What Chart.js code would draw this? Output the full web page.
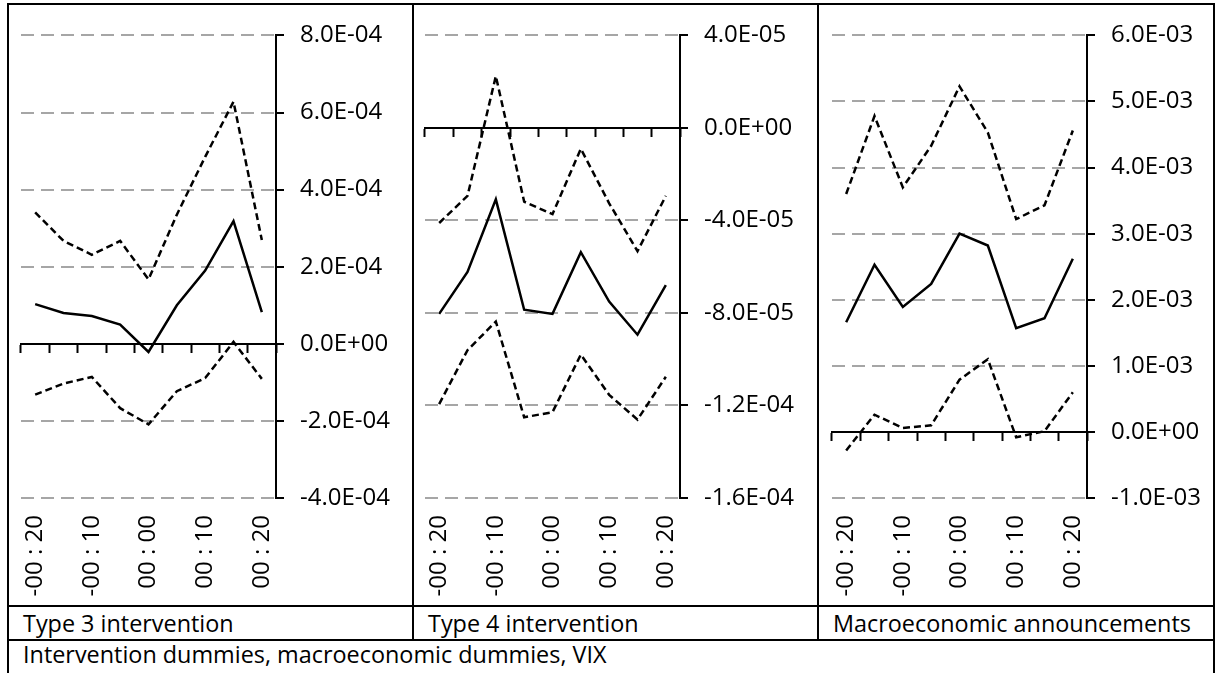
<!DOCTYPE html>
<html>
<head>
<meta charset="utf-8">
<script src="https://cdn.jsdelivr.net/npm/chart.js@4/dist/chart.umd.min.js"></script>
<style>
  body { margin: 0; background: #fff; font-family: 'Open Sans', sans-serif; }
  #page { position: relative; width: 1215px; height: 673px; overflow: hidden; }
  .line { position: absolute; background: #000; }
  .box { position: absolute; }
  .cap { position: absolute; font-size: 23.4px; line-height: 32px; color: #000; white-space: nowrap; }
</style>
</head>
<body>
<div id="page">
  <div class="box" style="left:9px;top:5px;width:402px;height:600px"><canvas id="chart1"></canvas></div>
  <div class="box" style="left:414px;top:5px;width:402px;height:600px"><canvas id="chart2"></canvas></div>
  <div class="box" style="left:819px;top:5px;width:393px;height:600px"><canvas id="chart3"></canvas></div>

  <!-- table frame -->
  <div class="line" style="left:7px;top:3px;width:1208px;height:2px"></div>
  <div class="line" style="left:7px;top:3px;width:2px;height:670px"></div>
  <div class="line" style="left:1213px;top:3px;width:2px;height:670px"></div>
  <div class="line" style="left:412px;top:3px;width:2px;height:638px"></div>
  <div class="line" style="left:817px;top:3px;width:2px;height:638px"></div>
  <div class="line" style="left:7px;top:605px;width:1208px;height:2px"></div>
  <div class="line" style="left:7px;top:639px;width:1208px;height:2px"></div>

  <div class="cap" style="left:23px;top:607px">Type 3 intervention</div>
  <div class="cap" style="left:428px;top:607px">Type 4 intervention</div>
  <div class="cap" style="left:833px;top:607px">Macroeconomic announcements</div>
  <div class="cap" style="left:23px;top:638px">Intervention dummies, macroeconomic dummies, VIX</div>
</div>

<script>
// time offsets around the event
const timeLabels = ['-00 : 20', '-00 : 15', '-00 : 10', '-00 : 05', '00 : 00', '00 : 05', '00 : 10', '00 : 15', '00 : 20'];

// Type 3 intervention
const type3Estimate = [1.03e-4, 0.80e-4, 0.72e-4, 0.50e-4, -0.21e-4, 1.00e-4, 1.90e-4, 3.18e-4, 0.82e-4];
const type3Upper = [3.41e-4, 2.67e-4, 2.31e-4, 2.67e-4, 1.67e-4, 3.35e-4, 4.85e-4, 6.28e-4, 2.69e-4];
const type3Lower = [-1.32e-4, -1.03e-4, -0.86e-4, -1.67e-4, -2.09e-4, -1.23e-4, -0.89e-4, 0.05e-4, -0.91e-4];

// Type 4 intervention
const type4Estimate = [-80.4e-6, -62.3e-6, -30.9e-6, -78.6e-6, -80.4e-6, -53.7e-6, -75.1e-6, -89.4e-6, -68.0e-6];
const type4Upper = [-41.1e-6, -29.4e-6, 22.4e-6, -31.9e-6, -37.3e-6, -9.0e-6, -32.6e-6, -53.3e-6, -29.4e-6];
const type4Lower = [-119.4e-6, -96.1e-6, -83.7e-6, -125.1e-6, -122.9e-6, -98.0e-6, -115.4e-6, -126.1e-6, -107.6e-6];

// Macroeconomic announcements
const macroEstimate = [1.66e-3, 2.53e-3, 1.89e-3, 2.24e-3, 3.00e-3, 2.82e-3, 1.57e-3, 1.72e-3, 2.62e-3];
const macroUpper = [3.60e-3, 4.78e-3, 3.70e-3, 4.33e-3, 5.23e-3, 4.53e-3, 3.22e-3, 3.43e-3, 4.56e-3];
const macroLower = [-0.28e-3, 0.26e-3, 0.06e-3, 0.10e-3, 0.79e-3, 1.10e-3, -0.08e-3, 0.01e-3, 0.60e-3];

// y-axis ranges [min, max, step]
const type3Range = [-4e-4, 8e-4, 2e-4];
const type4Range = [-1.6e-4, 4e-5, 4e-5];
const macroRange = [-1e-3, 6e-3, 1e-3];

const tickFont = { family: 'Open Sans', size: 24 };

// format like Excel: 8.0E-04
function sci(v) {
  if (Math.abs(v) < 1e-15) v = 0;
  const parts = v.toExponential(1).split('e');
  const n = parseInt(parts[1], 10);
  return parts[0] + 'E' + (n < 0 ? '-' : '+') + String(Math.abs(n)).padStart(2, '0');
}

function makeChart(id, estimate, upper, lower, range, padLeft, axisWidth) {
  return new Chart(document.getElementById(id), {
    type: 'line',
    data: {
      labels: timeLabels,
      datasets: [{
        data: upper,
        borderColor: '#000',
        borderWidth: 2.5,
        borderDash: [7, 4],
        pointRadius: 0,
        tension: 0,
        xAxisID: 'x',
        yAxisID: 'y'
      }, {
        data: estimate,
        borderColor: '#000',
        borderWidth: 2.5,
        pointRadius: 0,
        tension: 0,
        xAxisID: 'x',
        yAxisID: 'y'
      }, {
        data: lower,
        borderColor: '#000',
        borderWidth: 2.5,
        borderDash: [7, 4],
        pointRadius: 0,
        tension: 0,
        xAxisID: 'x',
        yAxisID: 'y'
      }]
    },
    options: {
      responsive: true,
      maintainAspectRatio: false,
      animation: false,
      layout: { padding: { left: padLeft, top: 25, right: 0, bottom: 0 } },
      plugins: {
        legend: { display: false },
        tooltip: { enabled: false }
      },
      scales: {
        // horizontal axis line crossing at zero
        x: {
          type: 'category',
          axis: 'x',
          position: { y: 0 },
          offset: true,
          grid: {
            offset: true,
            drawOnChartArea: false,
            drawTicks: true,
            tickLength: 8,
            tickWidth: 2,
            tickColor: '#000'
          },
          border: { display: true, color: '#000', width: 2 },
          ticks: { display: false }
        },
        // time labels at the bottom
        xl: {
          type: 'category',
          axis: 'x',
          position: 'bottom',
          offset: true,
          grid: { display: false, drawTicks: false },
          border: { display: false },
          ticks: {
            autoSkip: false,
            minRotation: 90,
            maxRotation: 90,
            padding: 17,
            color: '#000',
            font: tickFont,
            callback: (v, i) => (i % 2 === 0 ? timeLabels[i] : '')
          },
          afterFit: (scale) => { scale.height = 107; }
        },
        y: {
          type: 'linear',
          position: 'right',
          min: range[0],
          max: range[1],
          grid: {
            color: (ctx) => (ctx.tick && Math.abs(ctx.tick.value) < 1e-15 ? 'rgba(0,0,0,0)' : '#a6a6a6'),
            lineWidth: 2,
            tickLength: 8,
            tickWidth: 2,
            tickColor: '#000'
          },
          border: { display: true, color: '#000', width: 2, dash: [13, 7] },
          ticks: {
            stepSize: range[2],
            padding: 16,
            color: '#000',
            font: tickFont,
            callback: (v) => sci(v)
          },
          afterFit: (scale) => { scale.width = axisWidth; }
        }
      }
    }
  });
}

makeChart('chart1', type3Estimate, type3Upper, type3Lower, type3Range, 12, 135);
makeChart('chart2', type4Estimate, type4Upper, type4Lower, type4Range, 11, 136);
makeChart('chart3', macroEstimate, macroUpper, macroLower, macroRange, 13, 125);
</script>
</body>
</html>
